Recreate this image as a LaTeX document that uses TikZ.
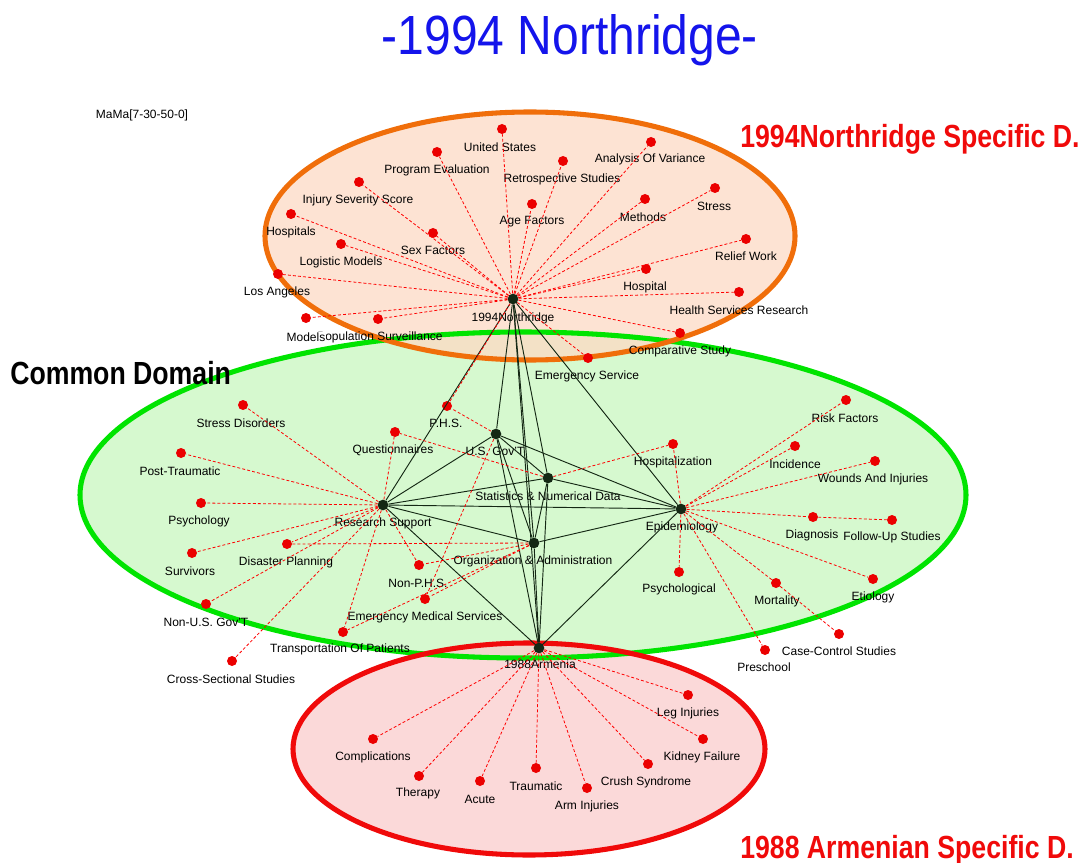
\documentclass[tikz,border=0pt]{standalone}
\usepackage{fontspec}
\setmainfont{Liberation Sans}
\usepackage{tikz}
\usetikzlibrary{positioning}

\definecolor{cnorth}{RGB}{253,218,196}
\definecolor{cdomain}{RGB}{214,249,207}
\definecolor{carm}{RGB}{250,204,204}
\definecolor{lnorth}{RGB}{240,110,10}
\definecolor{ldomain}{RGB}{0,228,0}
\definecolor{larm}{RGB}{240,10,10}
\definecolor{ctitle}{RGB}{20,20,235}
\definecolor{chub}{RGB}{20,40,20}

\tikzset{
  hub/.style={circle,fill=chub,inner sep=0pt,minimum size=8pt},
  rdot/.style={circle,fill=red!92!black,inner sep=0pt,minimum size=7.5pt},
  lbl/.style={inner sep=0.75pt,font=\fontsize{9}{10}\selectfont},
  spoke/.style={red,line width=0.6pt,dash pattern=on 2.2pt off 1.6pt},
  tie/.style={chub,line width=0.7pt},
  bigred/.style={anchor=west,inner sep=0pt,text=larm,font=\fontsize{20}{24}\selectfont\bfseries},
}

\begin{document}
\begin{tikzpicture}[x=0.75pt,y=0.75pt,yscale=-1,xscale=1]
\path[use as bounding box] (0,0) rectangle (1083,863);

%Shape: Ellipse fills
\fill[cdomain] (523,495) ellipse [x radius=443, y radius=163];
\fill[cnorth, fill opacity=0.75] (530,236) ellipse [x radius=265, y radius=124];
\fill[carm, fill opacity=0.75] (529,749) ellipse [x radius=236, y radius=106];
%Shape: Ellipse outlines
\draw[ldomain, line width=3.8pt] (523,495) ellipse [x radius=443, y radius=163];
\draw[lnorth, line width=3.8pt] (530,236) ellipse [x radius=265, y radius=124];
\draw[larm, line width=3.8pt] (529,749) ellipse [x radius=236, y radius=106];

% Title and domain names
\node[text=ctitle, font=\fontsize{36}{40}\selectfont] (title) at (570,40) {\scalebox{1}[1.15]{-1994 Northridge-}};
\node[lbl] (mama) at (142,115) {MaMa[7-30-50-0]};
\node[bigred] (northd) at (740,139) {\scalebox{1}[1.2]{1994Northridge Specific D.}};
\node[bigred, text=black] (commond) at (10,373) {\scalebox{1}[1.2]{Common Domain}};
\node[bigred] (armd) at (740,850) {\scalebox{1}[1.2]{1988 Armenian Specific D.}};

% Hubs
\node[hub] (n94) at (513,299) {};
\node[lbl] (n94-t) at (513,318) {1994Northridge};
\node[hub] (gov) at (496,434) {};
\node[lbl] (gov-t) at (495,451) {U.S. Gov'T};
\node[hub] (stat) at (548,478) {};
\node[lbl] (stat-t) at (548,496) {Statistics \& Numerical Data};
\node[hub] (rs) at (383,505) {};
\node[lbl] (rs-t) at (383,523) {Research Support};
\node[hub] (epi) at (681,509) {};
\node[lbl] (epi-t) at (682,527) {Epidemiology};
\node[hub] (oa) at (534,543) {};
\node[lbl] (oa-t) at (533,561) {Organization \& Administration};
\node[hub] (a88) at (539,648) {};
\node[lbl] (a88-t) at (540,664) {1988Armenia};

% Northridge terms
\node[rdot] (us) at (502,129) {};
\node[lbl] (us-t) at (500,147) {United States};
\node[rdot] (progev) at (437,152) {};
\node[lbl] (progev-t) at (437,170) {Program Evaluation};
\node[rdot] (anova) at (651,142) {};
\node[lbl] (anova-t) at (650,159) {Analysis Of Variance};
\node[rdot] (retro) at (563,161) {};
\node[lbl] (retro-t) at (562,179) {Retrospective Studies};
\node[rdot] (injsev) at (359,182) {};
\node[lbl] (injsev-t) at (358,200) {Injury Severity Score};
\node[rdot] (age) at (532,204) {};
\node[lbl] (age-t) at (532,222) {Age Factors};
\node[rdot] (meth) at (645,199) {};
\node[lbl] (meth-t) at (643,217) {Methods};
\node[rdot] (stress) at (715,188) {};
\node[lbl] (stress-t) at (714,206) {Stress};
\node[rdot] (hospitals) at (291,214) {};
\node[lbl] (hospitals-t) at (291,232) {Hospitals};
\node[rdot] (sex) at (433,233) {};
\node[lbl] (sex-t) at (433,250) {Sex Factors};
\node[rdot] (logit) at (341,244) {};
\node[lbl] (logit-t) at (341,262) {Logistic Models};
\node[rdot] (relief) at (746,239) {};
\node[lbl] (relief-t) at (746,256) {Relief Work};
\node[rdot] (hospital) at (646,269) {};
\node[lbl] (hospital-t) at (645,287) {Hospital};
\node[rdot] (la) at (278,274) {};
\node[lbl] (la-t) at (277,292) {Los Angeles};
\node[rdot] (hsr) at (739,292) {};
\node[lbl] (hsr-t) at (739,310) {Health Services Research};
\node[rdot] (popsurv) at (378,319) {};
\node[lbl] (popsurv-t) at (380,337) {Population Surveillance};
\node[rdot] (models) at (306,318) {};
\node[lbl, fill=white] (models-t) at (306,337) {Models};
\node[rdot] (compst) at (680,333) {};
\node[lbl] (compst-t) at (680,351) {Comparative Study};
\node[rdot] (emserv) at (588,358) {};
\node[lbl] (emserv-t) at (587,376) {Emergency Service};
\node[rdot] (phs) at (447,406) {};
\node[lbl] (phs-t) at (446,423) {P.H.S.};

% Common domain terms
\node[rdot] (strdis) at (243,405) {};
\node[lbl] (strdis-t) at (241,423) {Stress Disorders};
\node[rdot] (quest) at (395,432) {};
\node[lbl] (quest-t) at (393,450) {Questionnaires};
\node[rdot] (posttr) at (181,453) {};
\node[lbl] (posttr-t) at (180,471) {Post-Traumatic};
\node[rdot] (psychology) at (201,503) {};
\node[lbl] (psychology-t) at (199,521) {Psychology};
\node[rdot] (survivors) at (192,553) {};
\node[lbl] (survivors-t) at (190,571) {Survivors};
\node[rdot] (displan) at (287,544) {};
\node[lbl] (displan-t) at (286,562) {Disaster Planning};
\node[rdot] (nonusgov) at (206,604) {};
\node[lbl] (nonusgov-t) at (206,622) {Non-U.S. Gov'T};
\node[rdot] (crosssec) at (232,661) {};
\node[lbl] (crosssec-t) at (231,679) {Cross-Sectional Studies};
\node[rdot] (nonphs) at (419,565) {};
\node[lbl] (nonphs-t) at (418,583) {Non-P.H.S.};
\node[rdot] (emsvc) at (425,599) {};
\node[lbl] (emsvc-t) at (425,617) {Emergency Medical Services};
\node[rdot] (transp) at (343,632) {};
\node[lbl] (transp-t) at (340,649) {Transportation Of Patients};
\node[rdot] (hospz) at (673,444) {};
\node[lbl] (hospz-t) at (673,462) {Hospitalization};
\node[rdot] (riskf) at (846,400) {};
\node[lbl] (riskf-t) at (845,418) {Risk Factors};
\node[rdot] (incid) at (795,446) {};
\node[lbl] (incid-t) at (795,464) {Incidence};
\node[rdot] (wounds) at (875,461) {};
\node[lbl] (wounds-t) at (873,479) {Wounds And Injuries};
\node[rdot] (diagn) at (813,517) {};
\node[lbl] (diagn-t) at (812,535) {Diagnosis};
\node[rdot] (follow) at (892,520) {};
\node[lbl] (follow-t) at (892,537) {Follow-Up Studies};
\node[rdot] (psychol) at (679,572) {};
\node[lbl] (psychol-t) at (679,589) {Psychological};
\node[rdot] (mortal) at (776,583) {};
\node[lbl] (mortal-t) at (777,601) {Mortality};
\node[rdot] (etiol) at (873,579) {};
\node[lbl] (etiol-t) at (873,597) {Etiology};
\node[rdot] (presch) at (765,650) {};
\node[lbl] (presch-t) at (764,667) {Preschool};
\node[rdot] (casectl) at (839,634) {};
\node[lbl] (casectl-t) at (839,651) {Case-Control Studies};

% Armenia terms
\node[rdot] (compl) at (373,739) {};
\node[lbl] (compl-t) at (373,757) {Complications};
\node[rdot] (therapy) at (419,776) {};
\node[lbl] (therapy-t) at (418,793) {Therapy};
\node[rdot] (acute) at (480,781) {};
\node[lbl] (acute-t) at (480,799) {Acute};
\node[rdot] (traum) at (536,768) {};
\node[lbl] (traum-t) at (536,786) {Traumatic};
\node[rdot] (arminj) at (587,788) {};
\node[lbl] (arminj-t) at (587,806) {Arm Injuries};
\node[rdot] (crush) at (648,764) {};
\node[lbl] (crush-t) at (646,782) {Crush Syndrome};
\node[rdot] (kidney) at (703,739) {};
\node[lbl] (kidney-t) at (702,757) {Kidney Failure};
\node[rdot] (leginj) at (688,695) {};
\node[lbl] (leginj-t) at (688,713) {Leg Injuries};

% Hub ties
\draw[tie] (n94) -- (gov);
\draw[tie] (n94) -- (stat);
\draw[tie] (n94) -- (rs);
\draw[tie] (n94) -- (epi);
\draw[tie] (n94) -- (oa);
\draw[tie] (n94) -- (a88);
\draw[tie] (gov) -- (stat);
\draw[tie] (gov) -- (rs);
\draw[tie] (gov) -- (epi);
\draw[tie] (gov) -- (oa);
\draw[tie] (gov) -- (a88);
\draw[tie] (stat) -- (rs);
\draw[tie] (stat) -- (epi);
\draw[tie] (stat) -- (oa);
\draw[tie] (stat) -- (a88);
\draw[tie] (rs) -- (epi);
\draw[tie] (rs) -- (oa);
\draw[tie] (rs) -- (a88);
\draw[tie] (epi) -- (oa);
\draw[tie] (epi) -- (a88);
\draw[tie] (oa) -- (a88);

% Spokes of 1994Northridge
\draw[spoke] (n94) -- (us);
\draw[spoke] (n94) -- (progev);
\draw[spoke] (n94) -- (anova);
\draw[spoke] (n94) -- (retro);
\draw[spoke] (n94) -- (injsev);
\draw[spoke] (n94) -- (age);
\draw[spoke] (n94) -- (meth);
\draw[spoke] (n94) -- (stress);
\draw[spoke] (n94) -- (hospitals);
\draw[spoke] (n94) -- (sex);
\draw[spoke] (n94) -- (logit);
\draw[spoke] (n94) -- (relief);
\draw[spoke] (n94) -- (hospital);
\draw[spoke] (n94) -- (la);
\draw[spoke] (n94) -- (hsr);
\draw[spoke] (n94) -- (models);
\draw[spoke] (n94) -- (popsurv);
\draw[spoke] (n94) -- (compst);
\draw[spoke] (n94) -- (emserv);
\draw[spoke] (n94) -- (phs);
\draw[spoke] (gov) -- (phs);
\draw[spoke] (gov) -- (emsvc);

% Spokes of the common hubs
\draw[spoke] (rs) -- (strdis);
\draw[spoke] (rs) -- (quest);
\draw[spoke] (rs) -- (posttr);
\draw[spoke] (rs) -- (psychology);
\draw[spoke] (rs) -- (survivors);
\draw[spoke] (rs) -- (displan);
\draw[spoke] (rs) -- (nonusgov);
\draw[spoke] (rs) -- (crosssec);
\draw[spoke] (rs) -- (nonphs);
\draw[spoke] (rs) -- (transp);
\draw[spoke] (stat) -- (quest);
\draw[spoke] (stat) -- (hospz);
\draw[spoke] (oa) -- (displan);
\draw[spoke] (oa) -- (nonphs);
\draw[spoke] (oa) -- (emsvc);
\draw[spoke] (oa) -- (transp);
\draw[spoke] (epi) -- (hospz);
\draw[spoke] (epi) -- (riskf);
\draw[spoke] (epi) -- (incid);
\draw[spoke] (epi) -- (wounds);
\draw[spoke] (epi) -- (diagn);
\draw[spoke] (diagn) -- (follow);
\draw[spoke] (epi) -- (psychol);
\draw[spoke] (epi) -- (mortal);
\draw[spoke] (mortal) -- (casectl);
\draw[spoke] (epi) -- (etiol);
\draw[spoke] (epi) -- (presch);

% Spokes of 1988Armenia
\draw[spoke] (a88) -- (compl);
\draw[spoke] (a88) -- (therapy);
\draw[spoke] (a88) -- (acute);
\draw[spoke] (a88) -- (traum);
\draw[spoke] (a88) -- (arminj);
\draw[spoke] (a88) -- (crush);
\draw[spoke] (a88) -- (kidney);
\draw[spoke] (a88) -- (leginj);
\end{tikzpicture}
\end{document}
